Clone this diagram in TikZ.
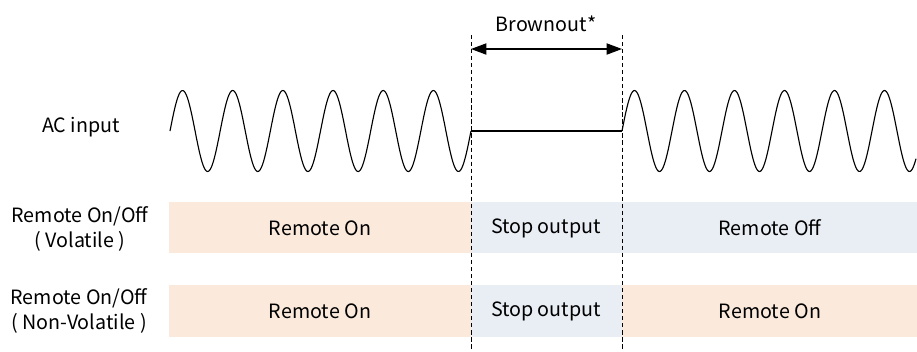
\documentclass[tikz,border=0pt]{standalone}
\usepackage{fontspec}
\setmainfont{Noto Sans CJK JP}
\usepackage{tikz}
\usetikzlibrary{arrows.meta}

\definecolor{onpeach}{RGB}{251,233,220}
\definecolor{offblue}{RGB}{233,237,244}

\tikzset{
    lbl/.style={font=\fontsize{14}{18}\selectfont, align=center, inner sep=0pt},
    wave/.style={line width=0.8pt, smooth},
    marker/.style={dashed, line width=0.7pt, dash pattern=on 3pt off 2pt}
}

\begin{document}
\begin{tikzpicture}[x=0.025cm, y=-0.025cm]
    \useasboundingbox (0,0) rectangle (917,351);

    % Bands
    \fill[onpeach] (169,202) rectangle (471,253);
    \fill[offblue] (471,202) rectangle (917,253);
    \fill[onpeach] (169,285) rectangle (471,337);
    \fill[offblue] (471,285) rectangle (622,337);
    \fill[onpeach] (622,285) rectangle (917,337);

    % Band texts
    \node[lbl] (vOn)   at (320,228) {Remote On};
    \node[lbl] (vStop) at (546,228) {Stop output};
    \node[lbl] (vOff)  at (770,228) {Remote Off};
    \node[lbl] (nOn)   at (320,311) {Remote On};
    \node[lbl] (nStop) at (546,311) {Stop output};
    \node[lbl] (nOn2)  at (770,311) {Remote On};

    % Row labels
    \node[lbl] (acin) at (81,127) {AC input};
    \node[lbl] (vol)  at (80,229) {Remote On/Off\\( Volatile )};
    \node[lbl] (nvol) at (79,311) {Remote On/Off\\( Non-Volatile )};

    % AC input wave
    \draw[wave, domain=170:471, samples=300] plot (\x, {131-40.5*sin(7.1761*(\x-170))});
    \draw[line width=0.8pt] (471,131) -- (622,131);
    \draw[wave, domain=622:916, samples=300] plot (\x, {131-40.5*sin(7.2*(\x-622))});

    % Brownout markers
    \coordinate (bl) at (471,35);
    \coordinate (br) at (622,35);
    \coordinate (blb) at (471,351);
    \coordinate (brb) at (622,351);
    \draw[marker] (bl) -- (blb);
    \draw[marker] (br) -- (brb);
    \coordinate (al) at (471,49);
    \coordinate (ar) at (622,49);
    \draw[{Triangle[length=11pt,width=8pt]}-{Triangle[length=11pt,width=8pt]}, line width=0.9pt] (al) -- (ar);
    \node[lbl] (brown) at (546,24) {Brownout*};
\end{tikzpicture}
\end{document}
